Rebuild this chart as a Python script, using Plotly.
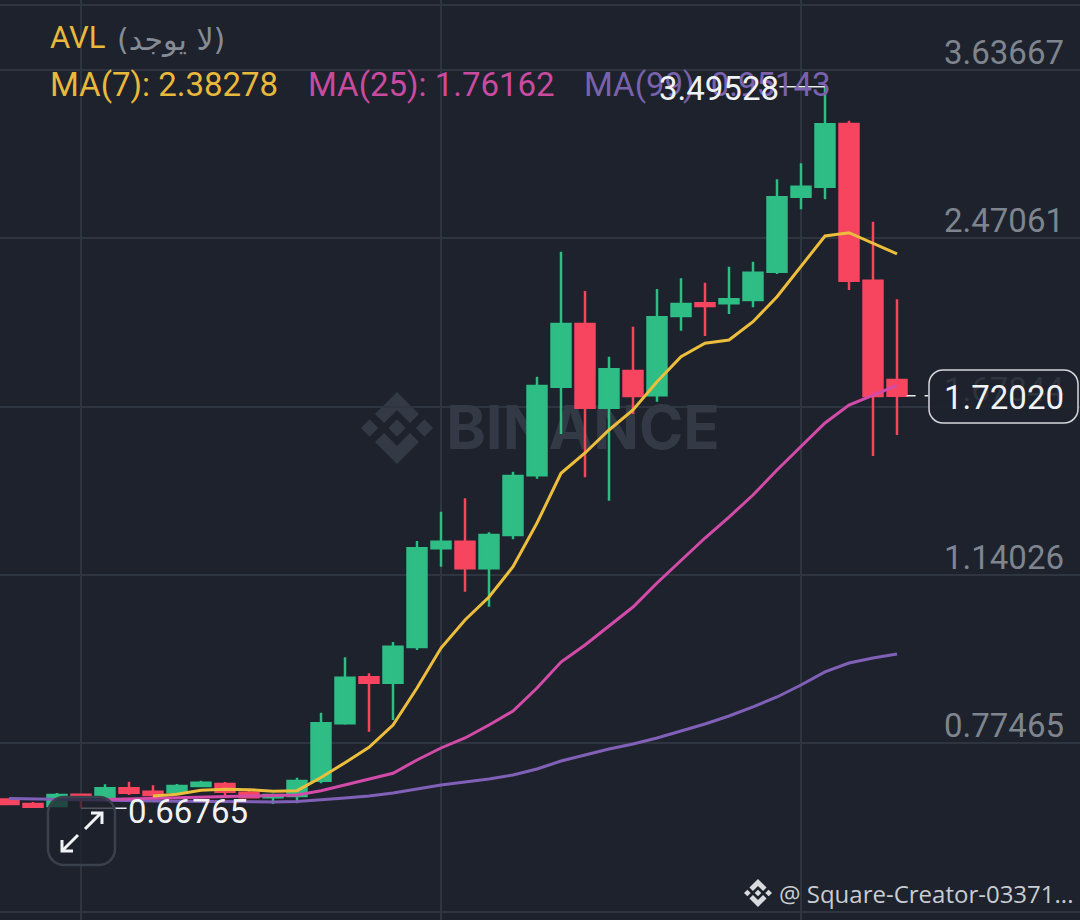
import math

import plotly.graph_objects as go

# Candle values
opens = [0.6813, 0.6743, 0.6712, 0.6888, 0.6847, 0.6990, 0.6936, 0.6931, 0.7027, 0.7060,
         0.6920, 0.6847, 0.6867, 0.7112, 0.8114, 0.9017, 0.8906, 0.9666, 1.2123, 1.2308,
         1.1579, 1.2498, 1.4335, 1.7565, 2.0281, 1.6739, 1.8210, 1.7222, 2.0657, 2.1269,
         2.1269, 2.1430, 2.2868, 2.7162, 2.7792, 3.2093, 2.2401, 1.7837]
highs = [0.6828, 0.6774, 0.6915, 0.6907, 0.7055, 0.7096, 0.7039, 0.7060, 0.7112, 0.7091,
         0.6947, 0.6907, 0.7159, 0.8314, 0.9441, 0.9101, 0.9779, 1.2327, 1.3185, 1.3596,
         1.2576, 1.4452, 1.7973, 2.3942, 2.1877, 1.8817, 2.0157, 2.1977, 2.2524, 2.2297,
         2.3132, 2.3398, 2.8269, 2.9326, 3.49528, 3.2338, 2.5647, 2.1465]
lows = [0.6728, 0.6696, 0.6696, 0.66765, 0.6836, 0.6883, 0.6857, 0.6915, 0.7006, 0.6857,
        0.6836, 0.6743, 0.6754, 0.7071, 0.8088, 0.7959, 0.8176, 0.9600, 1.1622, 1.0974,
        1.0602, 1.2376, 1.4222, 1.5759, 1.4270, 1.3522, 1.6499, 1.6971, 1.9973, 1.9730,
        2.0753, 2.1074, 2.2746, 2.6388, 2.7001, 2.1925, 1.4983, 1.5723]
closes = [0.6743, 0.6701, 0.6883, 0.6847, 0.6990, 0.6920, 0.6883, 0.7027, 0.7081, 0.6936,
          0.6847, 0.6883, 0.7107, 0.8114, 0.9009, 0.8906, 0.9673, 1.2123, 1.2308, 1.1579,
          1.2498, 1.4310, 1.7593, 2.0281, 1.6739, 1.8281, 1.7194, 2.0595, 2.1235, 2.1137,
          2.1465, 2.2815, 2.7125, 2.7792, 3.2069, 2.2401, 1.7194, 1.72020]

ma7 = [None] * 6 + [0.6867, 0.6895, 0.6958, 0.6975, 0.6968, 0.6942, 0.6952, 0.7164, 0.7413,
                    0.7679, 0.8082, 0.8798, 0.9644, 1.0284, 1.0841, 1.1622, 1.2847, 1.4400,
                    1.5087, 1.5904, 1.6651, 1.7768, 1.8817, 1.9405, 1.9551, 2.0391, 2.1593,
                    2.3132, 2.4820, 2.5008, 2.4407, 2.38278]
ma25 = [None] * 4 + [0.6813, 0.6820, 0.6836, 0.6844, 0.6852, 0.6860, 0.6867, 0.6875, 0.6883,
                     0.6952, 0.7044, 0.7136, 0.7235, 0.7459, 0.7667, 0.7845, 0.8082, 0.8346,
                     0.8798, 0.9339, 0.9711, 1.0144, 1.0595, 1.1195, 1.1802, 1.2413, 1.3025,
                     1.3700, 1.4509, 1.5296, 1.6163, 1.6843, 1.7233, 1.76162]
ma99 = [0.6828, 0.6820, 0.6813, 0.6805, 0.6800, 0.6795, 0.6789, 0.6786, 0.6782, 0.6778,
        0.6774, 0.6774, 0.6782, 0.6805, 0.6836, 0.6867, 0.6915, 0.6979, 0.7044, 0.7091,
        0.7141, 0.7207, 0.7306, 0.7441, 0.7545, 0.7649, 0.7738, 0.7845, 0.7972, 0.8101,
        0.8251, 0.8424, 0.8619, 0.8859, 0.9128, 0.9318, 0.9426, 0.95143]

price_ticks = [3.63667, 2.47061, 1.67844, 1.14026, 0.77465]
price_labels = ['3.63667', '2.47061', '1.67844', '1.14026', '0.77465']
last_price = 1.72020
candle_idx = list(range(len(closes)))

BG = '#1d222c'
GRID = '#2f3540'
UP = '#2ebd85'
DOWN = '#f8455f'
FONT = 'Roboto'


# page pixels to paper fractions, only for the decorations
def px(x, y):
    return f'{x / 1080:.5f} {1 - y / 920:.5f}'


def poly(points):
    return 'M ' + ' L '.join(px(x, y) for x, y in points) + ' Z'


def rounded(x0, y0, x1, y1, r):
    k = r * 0.45
    return (f'M {px(x0 + r, y0)} L {px(x1 - r, y0)} C {px(x1 - k, y0)} {px(x1, y0 + k)} {px(x1, y0 + r)} '
            f'L {px(x1, y1 - r)} C {px(x1, y1 - k)} {px(x1 - k, y1)} {px(x1 - r, y1)} '
            f'L {px(x0 + r, y1)} C {px(x0 + k, y1)} {px(x0, y1 - k)} {px(x0, y1 - r)} '
            f'L {px(x0, y0 + r)} C {px(x0, y0 + k)} {px(x0 + k, y0)} {px(x0 + r, y0)} Z')


def logo(cx, cy, r, color, layer):
    top = [(0, -1), (0.61, -0.39), (0.36, -0.14), (0, -0.5), (-0.36, -0.14), (-0.61, -0.39)]
    parts = [
        top,
        [(x, -y) for x, y in top],
        [(0, -0.24), (0.24, 0), (0, 0.24), (-0.24, 0)],
        [(-0.76, -0.24), (-0.52, 0), (-0.76, 0.24), (-1, 0)],
        [(0.76, -0.24), (1, 0), (0.76, 0.24), (0.52, 0)],
    ]
    return [dict(type='path', xref='paper', yref='paper', layer=layer, fillcolor=color,
                 line=dict(width=0),
                 path=poly([(cx + x * r, cy + y * r) for x, y in p])) for p in parts]


def label(x, y, text, color, size=33, anchor='left', family=FONT):
    return dict(x=x / 1080, y=1 - y / 920, xref='paper', yref='paper', text=text, showarrow=False,
                xanchor=anchor, yanchor='middle', align=anchor, borderpad=0,
                font=dict(family=family, size=size, color=color))


fig = go.Figure()

# watermark sits on its own axes under the candles
fig.add_trace(go.Scatter(x=[583], y=[434], mode='text', text=['<b>BINANCE</b>'], xaxis='x', yaxis='y',
                         textfont=dict(family='Inter', size=60, color='#343a45'), hoverinfo='skip',
                         showlegend=False))

fig.add_trace(go.Candlestick(x=candle_idx, open=opens, high=highs, low=lows, close=closes,
                             xaxis='x2', yaxis='y2', showlegend=False, whiskerwidth=0,
                             increasing=dict(line=dict(color=UP, width=2.5), fillcolor=UP),
                             decreasing=dict(line=dict(color=DOWN, width=2.5), fillcolor=DOWN)))

for values, color in [(ma99, '#8160b8'), (ma25, '#d34ba8'), (ma7, '#ecbe3c')]:
    fig.add_trace(go.Scatter(x=candle_idx, y=values, mode='lines', xaxis='x2', yaxis='y2',
                             line=dict(color=color, width=3), showlegend=False))

low_i = lows.index(min(lows))
high_i = highs.index(max(highs))

shapes = []
shapes += logo(397, 428, 36, '#343a45', 'below')
shapes += logo(758, 893, 14, '#d8dadd', 'above')
for y in (5, 912):
    shapes.append(dict(type='line', xref='paper', yref='paper', x0=0, x1=1, y0=1 - y / 920, y1=1 - y / 920,
                       line=dict(color=GRID, width=2), layer='below'))
# high and low leaders
shapes.append(dict(type='line', xref='x2', yref='y2', x0=high_i, x1=32.1, y0=highs[high_i], y1=highs[high_i],
                   line=dict(color='#e8e9eb', width=1.5)))
shapes.append(dict(type='line', xref='x2', yref='y2', x0=low_i, x1=4.9, y0=lows[low_i], y1=lows[low_i],
                   line=dict(color='#e8e9eb', width=1.5)))
# dashed leader and box of the last price
shapes.append(dict(type='line', xref='x2', yref='y2', x0=len(closes) - 0.6, x1=38.3, y0=last_price, y1=last_price,
                   line=dict(color='#e8e9eb', width=1.5, dash='dash')))
shapes.append(dict(type='path', xref='paper', yref='paper', path=rounded(929, 370, 1078, 423, 14),
                   fillcolor='rgba(29,34,44,0.93)', line=dict(color='#d5d8dc', width=1.5)))
# expand button
shapes.append(dict(type='path', xref='paper', yref='paper', path=rounded(48, 797, 115, 865, 16),
                   fillcolor='rgba(29,34,44,0.75)', line=dict(color='#3b414c', width=2.5)))
arrows = ['M ' + px(85, 829) + ' L ' + px(101, 813),
          'M ' + px(91, 813) + ' L ' + px(102, 813) + ' L ' + px(102, 824),
          'M ' + px(78, 835) + ' L ' + px(62, 851),
          'M ' + px(62, 840) + ' L ' + px(62, 851) + ' L ' + px(73, 851)]
for p in arrows:
    shapes.append(dict(type='path', xref='paper', yref='paper', path=p, line=dict(color='#f2f3f4', width=3)))

# price labels ride 17px above their grid lines; the one behind the box is only a ghost
tick_notes = []
for value, text in zip(price_ticks, price_labels):
    tick_notes.append(dict(x=1065 / 1080, xref='paper', y=math.log10(value), yref='y2', yshift=17.5,
                           text=text, showarrow=False, xanchor='right', yanchor='middle', borderpad=0,
                           font=dict(family=FONT, size=33,
                                     color='#2f343d' if value == 1.67844 else '#7f858e')))

annotations = tick_notes + [
    label(49, 37, 'AVL', '#e9b93c', 31),
    label(116, 39, '(لا يوجد)', '#868c96', 30, family='DejaVu Sans'),
    label(49, 84, 'MA(7): 2.38278', '#e9b93c'),
    label(307, 84, 'MA(25): 1.76162', '#c94ba0'),
    label(583, 84, 'MA(99): 0.95143', '#7a62ae'),
    label(780, 88, f'{highs[high_i]:.5f}', '#f1f2f3', anchor='right'),
    label(127, 811, f'{lows[low_i]:.5f}', '#f1f2f3'),
    label(1065, 397, f'{last_price:.5f}', '#f1f2f3', anchor='right'),
    label(778, 893, '@ Square-Creator-03371...', '#c9ccd1', 24, family='Open Sans'),
]

fig.update_layout(
    width=1080, height=920, margin=dict(l=0, r=0, t=0, b=0),
    paper_bgcolor=BG, plot_bgcolor=BG, boxgap=0.21, boxgroupgap=0,
    shapes=shapes, annotations=annotations,
    xaxis=dict(range=[0, 1080], visible=False, domain=[0, 1]),
    yaxis=dict(range=[920, 0], visible=False, domain=[0, 1]),
    xaxis2=dict(range=[-0.375, 44.625], overlaying='x', anchor='y2', rangeslider=dict(visible=False),
                tickvals=[3, 18, 33], showticklabels=False, showgrid=True, gridcolor=GRID, gridwidth=1.5,
                zeroline=False, ticks=''),
    yaxis2=dict(type='log', range=[-0.28678, 0.62999], overlaying='y', anchor='x2', side='right',
                tickvals=price_ticks, showticklabels=False,
                showgrid=True, gridcolor=GRID, gridwidth=1.5, zeroline=False, ticks=''),
)

# the page's default body margin would push the figure off by 8px
fig.write_html("out.html", config=dict(displayModeBar=False),
               post_script="document.body.style.margin='0';")
